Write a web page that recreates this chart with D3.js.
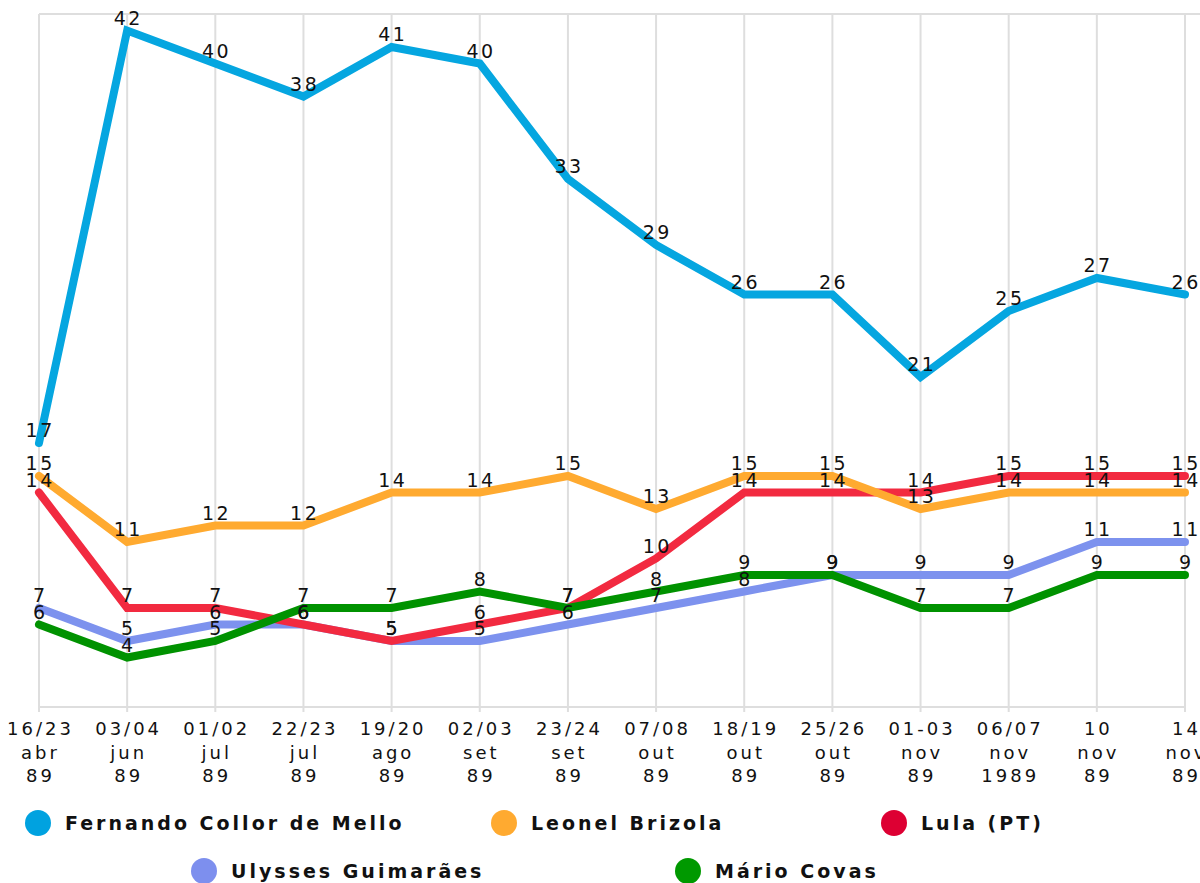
<!DOCTYPE html>
<html>
<head>
  <title>Pesquisas 1989</title>
  <script src="https://cdn.jsdelivr.net/npm/d3@7"></script>
  <style>
    body { margin: 0; background: #fff; font-family: "DejaVu Sans", Verdana, sans-serif; }
    .grid line { stroke: #dedede; stroke-width: 2; }
    .line { fill: none; stroke-width: 8; stroke-linecap: round; }
    .val { font-size: 19px; fill: #111; text-anchor: middle; letter-spacing: 2.5px; }
    .tick-lbl { font-size: 18px; fill: #111; text-anchor: middle; letter-spacing: 3px; }
    .leg { font-size: 19px; font-weight: bold; fill: #111; letter-spacing: 3px; }
  </style>
</head>
<body>
  <div id="chart"></div>
  <script>
    const catDay = ["16/23", "03/04", "01/02", "22/23", "19/20", "02/03", "23/24", "07/08", "18/19", "25/26", "01-03", "06/07", "10", "14"];
    const catMonth = ["abr", "jun", "jul", "jul", "ago", "set", "set", "out", "out", "out", "nov", "nov", "nov", "nov"];
    const catYear = ["89", "89", "89", "89", "89", "89", "89", "89", "89", "89", "89", "1989", "89", "89"];

    const collor  = [17, 42, 40, 38, 41, 40, 33, 29, 26, 26, 21, 25, 27, 26];
    const brizola = [15, 11, 12, 12, 14, 14, 15, 13, 15, 15, 13, 14, 14, 14];
    const lula    = [14, 7, 7, 6, 5, 6, 7, 10, 14, 14, 14, 15, 15, 15];
    const ulysses = [7, 5, 6, 6, 5, 5, 6, 7, 8, 9, 9, 9, 11, 11];
    const covas   = [6, 4, 5, 7, 7, 8, 7, 8, 9, 9, 7, 7, 9, 9];

    const seriesNames = ["Fernando Collor de Mello", "Leonel Brizola", "Lula (PT)", "Ulysses Guimarães", "Mário Covas"];
    const seriesData = [collor, brizola, lula, ulysses, covas];
    const lineColors = ["#05a6e0", "#ffaa30", "#f22a40", "#7d92ee", "#009200"];
    const dotColors = ["#00a2e0", "#ffaa30", "#dd0033", "#7d8fee", "#009900"];
    const drawOrder = [0, 3, 2, 1, 4];

    const W = 1200, H = 883;
    const svg = d3.select("#chart").append("svg")
      .attr("width", W).attr("height", H);

    const x = d3.scalePoint().domain(d3.range(catDay.length)).range([39, 1185]);
    const y = d3.scaleLinear().domain([1, 43]).range([707, 14]);

    // grid
    const grid = svg.append("g").attr("class", "grid");
    grid.selectAll("line.v").data(d3.range(catDay.length)).join("line")
      .attr("x1", d => x(d)).attr("x2", d => x(d))
      .attr("y1", y(43)).attr("y2", y(1) + 5);
    grid.append("line").attr("x1", x(0)).attr("x2", W).attr("y1", y(43)).attr("y2", y(43));
    grid.append("line").attr("x1", x(0)).attr("x2", x(13)).attr("y1", y(1)).attr("y2", y(1));

    // x labels (3 lines each)
    const xl = svg.append("g");
    d3.range(catDay.length).forEach(i => {
      const t = xl.append("text").attr("class", "tick-lbl");
      t.append("tspan").attr("x", x(i) + 1.5).attr("y", 735).text(catDay[i]);
      t.append("tspan").attr("x", x(i) + 1.5).attr("y", 759).text(catMonth[i]);
      t.append("tspan").attr("x", x(i) + 1.5).attr("y", 782).text(catYear[i]);
    });

    const line = d3.line().x((d, i) => x(i)).y(d => y(d));
    drawOrder.forEach(s => {
      svg.append("path").datum(seriesData[s])
        .attr("class", "line").attr("stroke", lineColors[s]).attr("d", line);
    });

    const labels = svg.append("g");
    drawOrder.forEach(s => {
      labels.selectAll(null).data(seriesData[s]).join("text")
        .attr("class", "val")
        .attr("x", (d, i) => x(i) + 1.2)
        .attr("y", d => y(d) - 6)
        .text(d => d);
    });

    // legend
    const legPos = [[38, 823], [504, 823], [894, 823], [204, 871], [688, 871]];
    const leg = svg.append("g");
    seriesNames.forEach((n, i) => {
      const [lx, ly] = legPos[i];
      leg.append("circle").attr("cx", lx).attr("cy", ly).attr("r", 13).attr("fill", dotColors[i]);
      leg.append("text").attr("class", "leg").attr("x", lx + 27).attr("y", ly + 7).text(n);
    });
  </script>
</body>
</html>
